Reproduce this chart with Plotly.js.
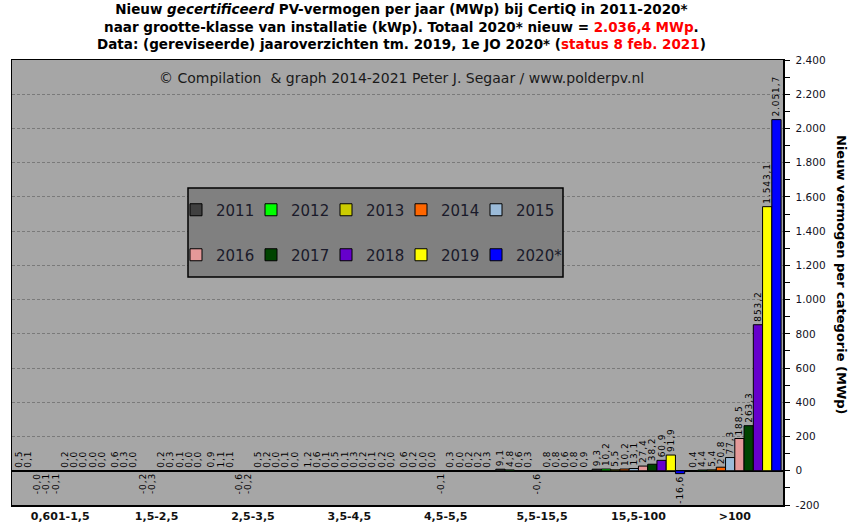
<!DOCTYPE html>
<html>
<head>
<meta charset="utf-8">
<script src="https://cdn.plot.ly/plotly-3.0.1.min.js"></script>
<style>
  html, body { margin: 0; padding: 0; background: #ffffff; }
  #chart { width: 851px; height: 531px; }
</style>
</head>
<body>
<div id="chart"></div>
<script>
// ---- Data (MWp per size class, per year) ----
const categories = ['0,601-1,5', '1,5-2,5', '2,5-3,5', '3,5-4,5', '4,5-5,5', '5,5-15,5', '15,5-100', '>100'];
const years = ['2011', '2012', '2013', '2014', '2015', '2016', '2017', '2018', '2019', '2020*'];

const v2011 = [0.5, 0.6, 0.9, 1.2, 0.6, 9.1, 9.3, 0.4];
const v2012 = [0.1, 0.3, 1.1, 0.6, 0.2, 4.8, 10.2, 4.4];
const v2013 = [-0.04, 0.0, 0.1, 0.1, 0.0, 0.6, 5.5, 5.4];
const v2014 = [-0.1, -0.2, -0.6, 0.5, 0.0, 0.3, 10.2, 20.8];
const v2015 = [-0.1, -0.3, -0.2, 0.1, -0.1, -0.6, 13.1, 77.3];
const v2016 = [0.2, 0.2, 0.5, 0.3, 0.3, 0.8, 27.4, 188.5];
const v2017 = [0.0, 0.3, 0.2, 0.2, 0.0, 0.8, 38.2, 263.3];
const v2018 = [0.0, 0.1, 0.0, 0.1, 0.2, 0.6, 60.9, 853.2];
const v2019 = [0.0, 0.0, 0.1, 0.2, 0.2, 0.8, 91.9, 1543.1];
const v2020 = [0.0, 0.0, 0.0, 0.0, 0.3, 0.9, -16.6, 2051.7];

const seriesValues = [v2011, v2012, v2013, v2014, v2015, v2016, v2017, v2018, v2019, v2020];
const seriesColors = ['#404040', '#00ff00', '#cccc00', '#ff6600', '#9bbbd9',
                      '#e59999', '#004400', '#6600cc', '#ffff00', '#0000ff'];
const yTicks = [-200, 0, 200, 400, 600, 800, 1000, 1200, 1400, 1600, 1800, 2000, 2200, 2400];

// Dutch number format: thousands '.', decimal ','
function fmt(v, dec) {
  const s = Math.abs(v).toFixed(dec);
  const parts = s.split('.');
  const intPart = parts[0].replace(/\B(?=(\d{3})+(?!\d))/g, '.');
  return (v < 0 ? '-' : '') + intPart + (parts[1] ? ',' + parts[1] : '');
}
// slightly spaced-out label text, like the original chart
const spaced = s => s.split('').join('\u200A');

const FONT = 'DejaVu Sans, Verdana, sans-serif';

// plot-area pixel frame
const plotL = 12, plotR = 783, plotT = 60, plotB = 505;
const pw = plotR - plotL, ph = plotB - plotT;
const px2x = p => (p - plotL) / pw;
const px2y = p => (plotB - p) / ph;

const legendName = k => (k === 0 ? 'legend' : 'legend' + (k + 1));

const traces = years.map((yr, k) => ({
  type: 'bar',
  name: yr,
  x: categories,
  y: seriesValues[k],
  text: seriesValues[k].map(v => spaced(fmt(v, 1))),
  textposition: 'outside',
  textangle: -90,
  constraintext: 'none',
  cliponaxis: false,
  textfont: { family: FONT, size: 9, color: '#000000' },
  marker: { color: seriesColors[k], line: { color: '#000000', width: 1 } },
  legend: legendName(k),
  showlegend: true,
  hoverinfo: 'skip'
}));

const layout = {
  width: 851,
  height: 531,
  margin: { l: plotL, r: 851 - plotR, t: plotT, b: 531 - plotB, pad: 0 },
  paper_bgcolor: '#ffffff',
  plot_bgcolor: '#a6a6a6',
  separators: ',.',
  showlegend: true,
  barmode: 'group',
  bargap: 0.04,
  bargroupgap: 0,
  hovermode: false,
  font: { family: FONT, color: '#000000' },
  xaxis: {
    type: 'category',
    range: [-0.5, categories.length - 0.5],
    showline: true, mirror: true, linecolor: '#000000', linewidth: 1.5,
    ticks: '', showgrid: false, zeroline: false,
    tickfont: { family: FONT, size: 11, color: '#111111', weight: 'bold' }
  },
  xaxis2: {
    overlaying: 'x', anchor: 'free', position: 200 / 2600, side: 'bottom',
    type: 'linear', range: [-0.5, categories.length - 0.5],
    tickmode: 'array', tickvals: categories.slice(1).map((c, i) => i + 0.5),
    ticks: 'outside', ticklen: 5, tickcolor: '#000000', tickwidth: 1,
    showticklabels: false, showgrid: false, zeroline: false, showline: false
  },
  yaxis: {
    side: 'right',
    range: [-200, 2400],
    tickmode: 'array',
    tickvals: yTicks,
    ticktext: yTicks.map(v => fmt(v, 0)),
    ticks: 'outside', ticklen: 5, tickcolor: '#000000', tickwidth: 1,
    ticklabelstandoff: 4,
    minor: { tickmode: 'linear', tick0: 0, dtick: 100, ticks: 'outside', ticklen: 5, tickcolor: '#000000', showgrid: false },
    showline: true, mirror: true, linecolor: '#000000', linewidth: 1.5,
    showgrid: true, gridcolor: '#7a7a7a', gridwidth: 1, griddash: '3px,2px',
    zeroline: true, zerolinecolor: '#000000', zerolinewidth: 1.5,
    tickfont: { family: FONT, size: 10.5, color: '#111122' }
  },
  shapes: [{
    type: 'rect', xref: 'paper', yref: 'paper', layer: 'above',
    x0: px2x(188), x1: px2x(563), y0: px2y(277), y1: px2y(188),
    fillcolor: '#808080', line: { color: '#000000', width: 1.5 }
  }],
  annotations: [
    {
      text: '<b>Nieuw <i>gecertificeerd</i> PV-vermogen per jaar (MWp) bij CertiQ in 2011-2020*<br>' +
            'naar grootte-klasse van installatie (kWp). Totaal 2020* nieuw = <span style="color:#ff0000">2.036,4 MWp</span>.<br>' +
            'Data: (gereviseerde) jaaroverzichten tm. 2019, 1e JO 2020* (<span style="color:#ff0000">status 8 feb. 2021</span>)</b>',
      xref: 'paper', yref: 'paper', x: px2x(401), y: px2y(-0.5),
      xanchor: 'center', yanchor: 'top', showarrow: false, align: 'center',
      font: { family: FONT, size: 13.5, color: '#000000' }
    },
    {
      text: '© Compilation&nbsp;&nbsp;&amp; graph 2014-2021 Peter J. Segaar / www.polderpv.nl',
      xref: 'paper', yref: 'paper', x: px2x(401.5), y: px2y(78),
      xanchor: 'center', yanchor: 'middle', showarrow: false,
      font: { family: FONT, size: 14, color: '#1a1a1a' }
    },
    {
      text: '<b>Nieuw vermogen per categorie (MWp)</b>',
      xref: 'paper', yref: 'paper', x: px2x(842), y: px2y(275),
      xanchor: 'center', yanchor: 'middle', showarrow: false, textangle: 90,
      font: { family: FONT, size: 13, color: '#000000' }
    }
  ]
};

// one small legend per year, laid out in a 5 x 2 grid inside the frame
years.forEach((yr, k) => {
  const col = k % 5, row = Math.floor(k / 5);
  layout[legendName(k)] = {
    visible: true,
    orientation: 'h',
    xanchor: 'left', yanchor: 'middle',
    x: px2x(176 + 75 * col),
    y: px2y(210 + 45 * row),
    bgcolor: 'rgba(0,0,0,0)',
    borderwidth: 0,
    font: { family: FONT, size: 15, color: '#1a1a2a' },
    itemwidth: 30,
    itemclick: false, itemdoubleclick: false
  };
});

Plotly.newPlot('chart', traces, layout, { displayModeBar: false, staticPlot: true });
</script>
</body>
</html>
